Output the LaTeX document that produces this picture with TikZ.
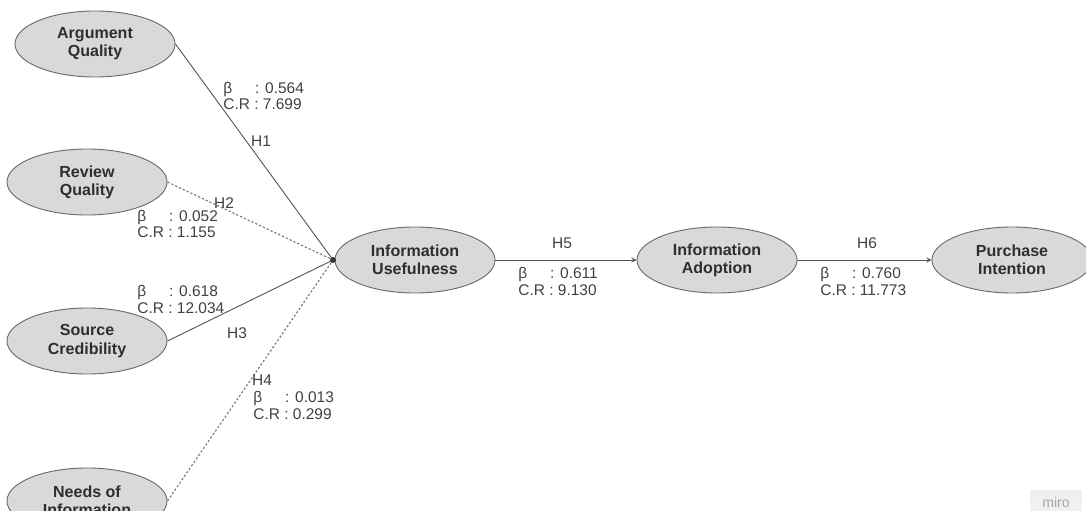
\documentclass[tikz,border=0pt]{standalone}
\usepackage{fontspec}
\setmainfont{Liberation Sans}
\usetikzlibrary{shapes.geometric}
\definecolor{nodefill}{HTML}{D9D9D9}
\definecolor{edgegray}{HTML}{6A6A6A}
\definecolor{linegray}{HTML}{555555}
\definecolor{textgray}{HTML}{2E2E2E}
\definecolor{labelgray}{HTML}{404040}
\begin{document}
\begin{tikzpicture}[x=0.025cm, y=-0.025cm, >=stealth, line width=0.65pt,
    construct/.style={ellipse, draw=edgegray, fill=nodefill, minimum width=4cm,
      minimum height=1.65cm, inner sep=0pt, align=center, text=textgray,
      font=\fontsize{11.4}{13}\selectfont\bfseries},
    strongpath/.style={draw=linegray},
    weakpath/.style={draw=linegray!80, line width=0.8pt, dash pattern=on 1.6pt off 1.4pt},
    stat/.style={anchor=west, align=left, inner sep=0pt, text=labelgray,
      font=\fontsize{11}{11.7}\selectfont},
    hyp/.style={inner sep=0pt, text=labelgray, font=\fontsize{11}{12}\selectfont}]
    \useasboundingbox (0,0) rectangle (1086,511);
    \clip (0,0) rectangle (1086,511);

    % Antecedent constructs
    \node[construct] (aq) at (95,44) {Argument\\Quality};
    \node[construct] (rq) at (87,182) {Review\\Quality};
    \node[construct] (sc) at (87,341) {Source\\Credibility};
    \node[construct] (ni) at (87,501) {Needs of\\Information};

    % Outcome chain
    \node[construct] (iu) at (415,260) {Information\\Usefulness};
    \node[construct] (ia) at (717,260) {Information\\Adoption};
    \node[construct] (pi) at (1012,260) {Purchase\\Intention};

    % Point where the four paths meet
    \coordinate (hub) at (333,260);

    % Paths H1--H4 into the hub
    \draw[strongpath] (aq.east) -- (hub);
    \draw[weakpath] (rq.east) -- (hub);
    \draw[strongpath] (sc.east) -- (hub);
    \draw[weakpath] (ni.east) -- (hub);
    \fill[linegray!60!black] (hub) circle (3);

    % Paths H5 and H6
    \draw[strongpath, ->] (iu) -- (ia);
    \draw[strongpath, ->] (ia) -- (pi);

    % Hypothesis labels
    \node[hyp] (h1) at (261,141) {H1};
    \node[hyp] (h2) at (224,203) {H2};
    \node[hyp] (h3) at (237,333) {H3};
    \node[hyp] (h4) at (262,380) {H4};
    \node[hyp] (h5) at (562,243) {H5};
    \node[hyp] (h6) at (867,243) {H6};

    % Coefficients
    \node[stat] (s1) at (223,96) {\makebox[2.05em][l]{β}: 0.564\\C.R : 7.699};
    \node[stat] (s2) at (137,224) {\makebox[2.05em][l]{β}: 0.052\\C.R : 1.155};
    \node[stat] (s3) at (137,299.5) {\makebox[2.05em][l]{β}: 0.618\\C.R : 12.034};
    \node[stat] (s4) at (253,405.5) {\makebox[2.05em][l]{β}: 0.013\\C.R : 0.299};
    \node[stat] (s5) at (518,281.5) {\makebox[2.05em][l]{β}: 0.611\\C.R : 9.130};
    \node[stat] (s6) at (820,281.5) {\makebox[2.05em][l]{β}: 0.760\\C.R : 11.773};

    % Watermark
    \node[fill=black!6, text=black!35, inner sep=0pt, minimum width=1.3cm,
      minimum height=0.6cm, font=\fontsize{10}{11}\selectfont] (miro) at (1056,502) {miro};
\end{tikzpicture}
\end{document}
